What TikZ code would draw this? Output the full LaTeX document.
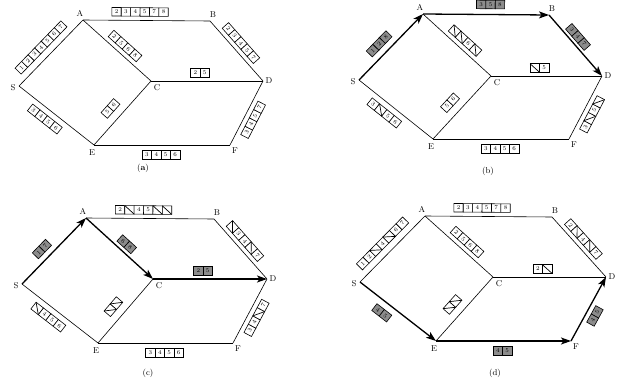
\documentclass[tikz,border=0pt]{standalone}
\usetikzlibrary{calc,arrows.meta}
\tikzset{
  edge/.style={line width=0.6pt},
  pathedge/.style={line width=1.3pt, -{Stealth[length=10pt,width=7pt,inset=2.5pt]}},
  vlabel/.style={font=\fontsize{8.5}{9}\selectfont, inner sep=0},
  caplabel/.style={font=\fontsize{8.5}{9}\selectfont, inner sep=0},
  cell/.style={draw, line width=0.6pt, fill=white},
  gcell/.style={draw, line width=0.6pt, fill=black!45},
  cross/.style={line width=0.7pt},
  digit/.style={font=\fontsize{5.8}{6}\selectfont, inner sep=0, transform shape, anchor=center},
}
\def\cw{9.4}
\def\ch{8.5}
\def\xmark{x}
% #1 style, #2 from, #3 to, #4 shift along edge, #5 offset (positive = left of direction), #6 list
\newcommand\wlrow[6][cell]{%
  \pgfmathanglebetweenpoints{\pgfpointanchor{#2}{center}}{\pgfpointanchor{#3}{center}}%
  \let\wlang\pgfmathresult
  \foreach[count=\n] \c in {#6}{\xdef\wlcount{\n}}%
  \begin{scope}[shift={($(#2)!0.5!(#3)$)}, rotate=\wlang, x=1pt, y=1pt]
    \foreach[count=\i] \c in {#6}{%
      \pgfmathsetmacro\xl{#4-\wlcount*\cw/2+(\i-1)*\cw}%
      \edef\tmp{\c}%
      \draw[#1] (\xl,#5-\ch/2) rectangle ++(\cw,\ch);
      \ifx\tmp\xmark
        \draw[cross] (\xl,#5+\ch/2) -- ++(\cw,-\ch);
      \else
        \node[digit, name=w#2#3\i] at (\xl+\cw/2,#5) {\c};
      \fi
    }
  \end{scope}}
\begin{document}
\begin{tikzpicture}[x=1pt,y=-1pt]
\path[use as bounding box, fill=white] (0,0) rectangle (622,388);

% ---------- panel (a)
\coordinate (aA) at (83,20);
\coordinate (aB) at (210,21);
\coordinate (aS) at (19,86);
\coordinate (aC) at (151,81);
\coordinate (aD) at (263,81);
\coordinate (aE) at (94,145);
\coordinate (aF) at (230,145);
% ---------- panel (b)
\coordinate (bA) at (423,14);
\coordinate (bB) at (549,15);
\coordinate (bS) at (359,80);
\coordinate (bC) at (491,76);
\coordinate (bD) at (602,76);
\coordinate (bE) at (433,139);
\coordinate (bF) at (569,139);
% ---------- panel (c)
\coordinate (cA) at (86,218);
\coordinate (cB) at (214,219);
\coordinate (cS) at (22,284);
\coordinate (cC) at (153,279);
\coordinate (cD) at (267,279);
\coordinate (cE) at (98,343);
\coordinate (cF) at (233,343);
% ---------- panel (d)
\coordinate (dA) at (425,216);
\coordinate (dB) at (552,217);
\coordinate (dS) at (360,282);
\coordinate (dC) at (493,277);
\coordinate (dD) at (606,277);
\coordinate (dE) at (436,341);
\coordinate (dF) at (571,341);

% vertex labels
\foreach \p in {a,b,c,d}{
  \node[vlabel] (\p Al) at ($(\p A)+(-3,-7)$) {A};
  \node[vlabel] (\p Bl) at ($(\p B)+(3,-6)$) {B};
  \node[vlabel] (\p Sl) at ($(\p S)+(-6,2)$) {S};
  \node[vlabel] (\p Cl) at ($(\p C)+(6,7)$) {C};
  \node[vlabel] (\p Dl) at ($(\p D)+(6,0)$) {D};
  \node[vlabel] (\p El) at ($(\p E)+(-2,8)$) {E};
  \node[vlabel] (\p Fl) at ($(\p F)+(5,6)$) {F};
}

% edges (a)
\draw[edge] (aS) -- (aA);
\draw[edge] (aA) -- (aB);
\draw[edge] (aA) -- (aC);
\draw[edge] (aB) -- (aD);
\draw[edge] (aC) -- (aD);
\draw[edge] (aS) -- (aE);
\draw[edge] (aE) -- (aC);
\draw[edge] (aE) -- (aF);
\draw[edge] (aF) -- (aD);
% edges (b)
\draw[pathedge] (bS) -- (bA);
\draw[pathedge] (bA) -- (bB);
\draw[edge] (bA) -- (bC);
\draw[pathedge] (bB) -- (bD);
\draw[edge] (bC) -- (bD);
\draw[edge] (bS) -- (bE);
\draw[edge] (bE) -- (bC);
\draw[edge] (bE) -- (bF);
\draw[edge] (bF) -- (bD);
% edges (c)
\draw[pathedge] (cS) -- (cA);
\draw[edge] (cA) -- (cB);
\draw[pathedge] (cA) -- (cC);
\draw[edge] (cB) -- (cD);
\draw[pathedge] (cC) -- (cD);
\draw[edge] (cS) -- (cE);
\draw[edge] (cE) -- (cC);
\draw[edge] (cE) -- (cF);
\draw[edge] (cF) -- (cD);
% edges (d)
\draw[edge] (dS) -- (dA);
\draw[edge] (dA) -- (dB);
\draw[edge] (dA) -- (dC);
\draw[edge] (dB) -- (dD);
\draw[edge] (dC) -- (dD);
\draw[pathedge] (dS) -- (dE);
\draw[edge] (dE) -- (dC);
\draw[pathedge] (dE) -- (dF);
\draw[pathedge] (dF) -- (dD);

% wavelength rows (a)
\wlrow{aS}{aA}{-3}{11}{1,2,3,4,5,6,7}
\wlrow{aA}{aB}{-6.5}{8.5}{2,3,4,5,7,8}
\wlrow{aA}{aC}{3}{8.7}{2,5,6,8}
\wlrow{aB}{aD}{-3}{8.6}{2,3,4,5,7}
\wlrow{aC}{aD}{-7}{8}{2,5}
\wlrow{aS}{aE}{-7}{-10}{3,4,5,6}
\wlrow{aE}{aC}{-4.6}{12}{5,6}
\wlrow{aF}{aD}{-3}{-9}{3,4,5,7}
\wlrow{aE}{aF}{-1}{-10}{3,4,5,6}
% (b)
\wlrow[gcell]{bS}{bA}{-6}{10.7}{1,2,8}
\wlrow[gcell]{bA}{bB}{4.5}{10}{3,5,8}
\wlrow{bA}{bC}{3}{8.7}{x,x,6,x}
\wlrow[gcell]{bB}{bD}{-4.8}{7.5}{3,4,7}
\wlrow{bC}{bD}{-7}{8}{x,5}
\wlrow{bS}{bE}{-7}{-10}{3,x,5,6}
\wlrow{bE}{bC}{-4.6}{12}{5,6}
\wlrow{bF}{bD}{-3}{-9}{3,x,5,x}
\wlrow{bE}{bF}{-1}{-10}{3,4,5,6}
% (c)
\wlrow[gcell]{cS}{cA}{-7}{10}{1,7}
\wlrow{cA}{cB}{-6.5}{8.5}{2,x,4,5,x,x}
\wlrow[gcell]{cA}{cC}{2.5}{8}{6,8}
\wlrow{cB}{cD}{-3}{8.6}{x,3,4,x,7}
\wlrow[gcell]{cC}{cD}{-7}{8}{2,5}
\wlrow{cS}{cE}{-7}{-10}{x,4,5,6}
\wlrow{cE}{cC}{-4.6}{12}{x,x}
\wlrow{cF}{cD}{-3}{-9}{3,4,x,7}
\wlrow{cE}{cF}{-1}{-10}{3,4,5,6}
% (d)
\wlrow{dS}{dA}{-3}{11}{1,2,x,4,x,6,7}
\wlrow{dA}{dB}{-6.5}{8.5}{2,3,4,5,7,8}
\wlrow{dA}{dC}{3}{8.7}{2,5,6,8}
\wlrow{dB}{dD}{-3}{8.6}{2,x,4,x,7}
\wlrow{dC}{dD}{-7}{8}{2,x}
\wlrow[gcell]{dS}{dE}{-12}{-11}{4,5}
\wlrow{dE}{dC}{-4.6}{12}{x,x}
\wlrow[gcell]{dF}{dD}{-3}{-9}{4,5}
\wlrow[gcell]{dE}{dF}{-1}{-10}{4,5}

% captions
\node[caplabel] (capa) at (143,168) {(\textbf{a})};
\node[caplabel] (capb) at (488,171) {(b)};
\node[caplabel] (capc) at (148,373) {(c)};
\node[caplabel] (capd) at (495,373) {(d)};
\end{tikzpicture}
\end{document}
